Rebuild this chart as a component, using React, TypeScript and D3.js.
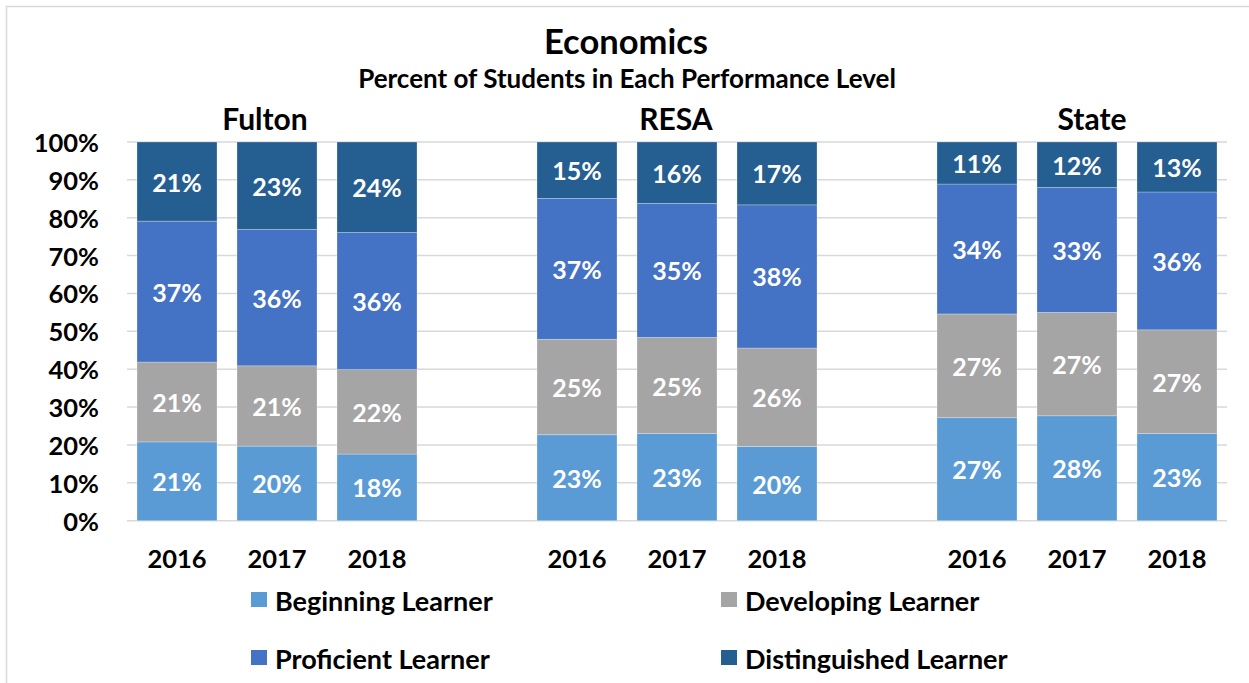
import React from "react";
import * as d3 from "d3";

const groups = ["Fulton", "RESA", "State"];
const years = ["2016", "2017", "2018"];
const seriesNames = ["Beginning Learner", "Developing Learner", "Proficient Learner", "Distinguished Learner"];
const beginning = [20.8, 19.7, 17.6, 22.7, 23.0, 19.6, 27.2, 27.7, 23.0];
const developing = [21.1, 21.2, 22.3, 25.2, 25.4, 26.0, 27.4, 27.3, 27.4];
const proficient = [37.2, 36.0, 36.2, 37.2, 35.4, 37.8, 34.3, 33.0, 36.4];
const distinguished = [20.9, 23.1, 23.9, 14.9, 16.2, 16.6, 11.1, 12.0, 13.2];
const yTicks = [0, 10, 20, 30, 40, 50, 60, 70, 80, 90, 100];

const colors = ["#5B9BD5", "#A5A5A5", "#4472C4", "#255E91"];
const FONT = "Lato, 'Open Sans', sans-serif";

type Row = { key: string; group: string; year: string; [k: string]: any };

export default function App() {
  const W = 1249, H = 683;
  const rows: Row[] = [];
  const slots: string[] = [];
  groups.forEach((g, gi) => {
    years.forEach((y, yi) => {
      const i = gi * 3 + yi;
      const key = `${g}-${y}`;
      slots.push(key);
      rows.push({
        key, group: g, year: y,
        [seriesNames[0]]: beginning[i],
        [seriesNames[1]]: developing[i],
        [seriesNames[2]]: proficient[i],
        [seriesNames[3]]: distinguished[i],
      });
    });
    if (gi < groups.length - 1) slots.push(`gap${gi}`);
  });

  const x = d3.scaleBand<string>().domain(slots).range([127, 1227]).paddingInner(0.2).paddingOuter(0.1);
  const y = d3.scaleLinear().domain([0, 100]).range([520.7, 142]);
  const stacked = d3.stack<Row>().keys(seriesNames)(rows);

  const groupLabelX: Record<string, number> = { Fulton: 265, RESA: 676, State: 1092 };

  const legendItems = [
    { name: seriesNames[0], x: 251, y: 600 },
    { name: seriesNames[1], x: 721, y: 600 },
    { name: seriesNames[2], x: 251, y: 658 },
    { name: seriesNames[3], x: 721, y: 658 },
  ];

  return (
    <svg width={W} height={H} style={{ position: "absolute", left: 0, top: 0, background: "#fff" }} fontFamily={FONT}>
      <rect x={6.5} y={6.5} width={1300} height={700} fill="#fff" stroke="#D9D9D9" strokeWidth={1.5} />
      <text x={626} y={40} textAnchor="middle" dominantBaseline="central" fontSize={34.5} fontWeight={700}>Economics</text>
      <text x={627} y={78} textAnchor="middle" dominantBaseline="central" fontSize={26} fontWeight={700}>Percent of Students in Each Performance Level</text>
      {groups.map((g) => (
        <text key={g} x={groupLabelX[g]} y={118} textAnchor="middle" dominantBaseline="central" fontSize={30} fontWeight={700}>{g}</text>
      ))}
      {yTicks.map((t) => (
        <g key={t}>
          <line x1={127} x2={1227} y1={y(t)} y2={y(t)} stroke="#D9D9D9" strokeWidth={1.5} />
          <text x={99} y={y(t)} textAnchor="end" dominantBaseline="central" fontSize={25.5} fontWeight={700}>{t}%</text>
        </g>
      ))}
      {stacked.map((s, si) => (
        <g key={s.key} fill={colors[si]}>
          {s.map((d) => {
            const r = d.data;
            const x0 = x(r.key)!;
            const top = y(d[1]), bot = y(d[0]);
            const v = d[1] - d[0];
            return (
              <g key={r.key}>
                <rect x={x0} y={top} width={x.bandwidth()} height={bot - top} stroke="#ffffff" strokeOpacity={0.35} strokeWidth={0.75} />
                <text x={x0 + x.bandwidth() / 2} y={(top + bot) / 2} textAnchor="middle" dominantBaseline="central" fill="#fff" fontSize={25} fontWeight={700}>{Math.round(v)}%</text>
              </g>
            );
          })}
        </g>
      ))}
      {rows.map((r) => (
        <text key={r.key} x={x(r.key)! + x.bandwidth() / 2} y={558} textAnchor="middle" dominantBaseline="central" fontSize={25.5} fontWeight={700}>{r.year}</text>
      ))}
      {legendItems.map((l, i) => (
        <g key={l.name}>
          <rect x={l.x} y={l.y - 8} width={16} height={15} fill={colors[i]} />
          <text x={l.x + 24} y={l.y} dominantBaseline="central" fontSize={27} fontWeight={700}>{l.name}</text>
        </g>
      ))}
    </svg>
  );
}
